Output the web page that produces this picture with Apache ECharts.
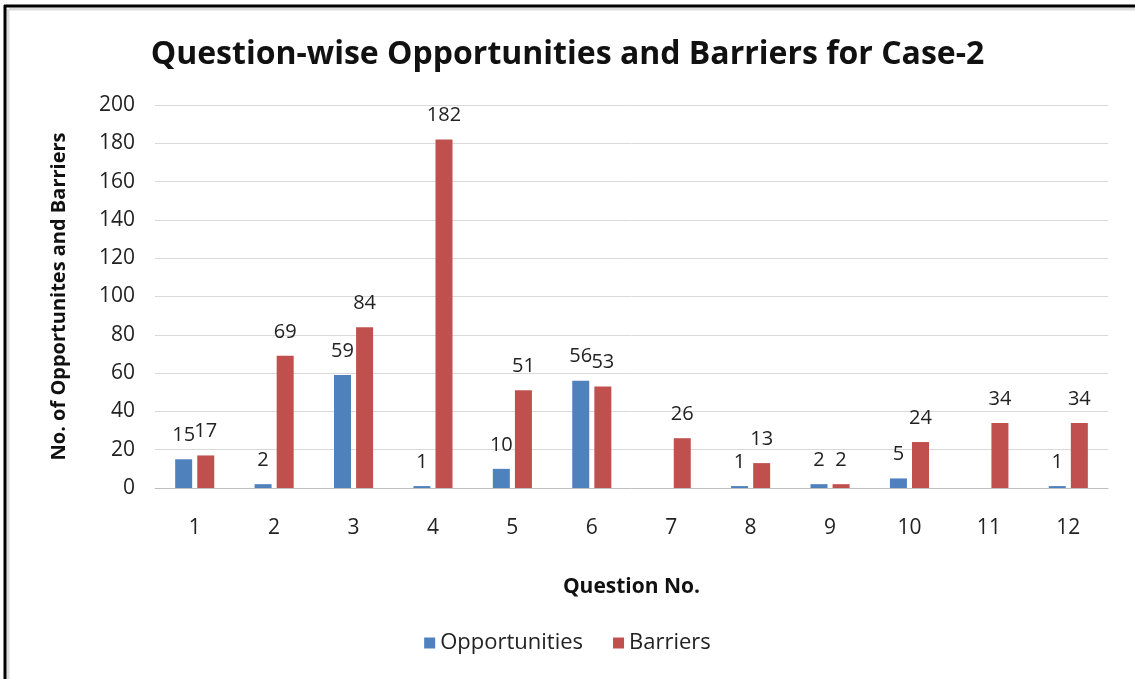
<!DOCTYPE html>
<html>
<head>
<meta charset="utf-8">
<script src="https://cdn.jsdelivr.net/npm/echarts@6/dist/echarts.min.js"></script>
<style>html,body{margin:0;padding:0;background:#fff;}#c{width:1135px;height:679px;}</style>
</head>
<body>
<div id="c"></div>
<script>
const categories = ['1','2','3','4','5','6','7','8','9','10','11','12'];
const opportunities = [15, 2, 59, 1, 10, 56, null, 1, 2, 5, null, 1];
const barriers = [17, 69, 84, 182, 51, 53, 26, 13, 2, 24, 34, 34];
const yTicks = { min: 0, max: 200, interval: 20 };

const FONT = '"Open Sans", "Noto Sans", sans-serif';
const chart = echarts.init(document.getElementById('c'), null, { renderer: 'canvas' });
const labelCfg = { show: true, position: 'top', distance: 14, color: '#222', fontSize: 20, fontFamily: FONT };
chart.setOption({
  animation: false,
  backgroundColor: '#fff',
  title: {
    text: 'Question-wise Opportunities and Barriers for Case-2',
    left: 'center', top: 34,
    textStyle: { fontFamily: FONT, fontSize: 32, fontWeight: 'bold', color: '#111' }
  },
  legend: {
    bottom: 20, left: 'center',
    itemWidth: 11, itemHeight: 11, itemGap: 30,
    icon: 'rect',
    textStyle: { fontFamily: FONT, fontSize: 22, color: '#222' },
    data: ['Opportunities', 'Barriers']
  },
  grid: { left: 155, right: 27, top: 105, bottom: 191 },
  xAxis: {
    type: 'category', data: categories,
    name: 'Question No.', nameLocation: 'middle', nameGap: 89,
    nameTextStyle: { fontFamily: FONT, fontSize: 21, fontWeight: 'bold', color: '#111' },
    axisLine: { lineStyle: { color: '#bfbfbf' } },
    axisTick: { show: false },
    axisLabel: { fontFamily: FONT, fontSize: 21, color: '#222', margin: 30 }
  },
  yAxis: {
    type: 'value', min: yTicks.min, max: yTicks.max, interval: yTicks.interval,
    name: 'No. of Opportunites and Barriers', nameLocation: 'middle', nameGap: 86,
    nameTextStyle: { fontFamily: FONT, fontSize: 20, fontWeight: 'bold', color: '#111' },
    axisLine: { show: false }, axisTick: { show: false },
    axisLabel: { fontFamily: FONT, fontSize: 21, color: '#222', margin: 20 },
    splitLine: { lineStyle: { color: '#d9d9d9' } }
  },
  series: [
    { name: 'Opportunities', type: 'bar', data: opportunities, barWidth: 17, barGap: '30%',
      itemStyle: { color: '#4f81bd' }, label: labelCfg },
    { name: 'Barriers', type: 'bar', data: barriers, barWidth: 17, barGap: '30%',
      itemStyle: { color: '#c0504d' }, label: labelCfg }
  ],
  graphic: [
    { type: 'line', shape: { x1: 9, y1: 9, x2: 1140, y2: 9 }, style: { stroke: '#dcdcdc', lineWidth: 3 }, silent: true },
    { type: 'line', shape: { x1: 8, y1: 9, x2: 8, y2: 690 }, style: { stroke: '#dcdcdc', lineWidth: 3 }, silent: true },
    { type: 'line', shape: { x1: 4, y1: 6, x2: 1140, y2: 6 }, style: { stroke: '#000', lineWidth: 3 }, silent: true },
    { type: 'line', shape: { x1: 5, y1: 5, x2: 5, y2: 690 }, style: { stroke: '#000', lineWidth: 3 }, silent: true }
  ]
});
</script>
</body>
</html>
